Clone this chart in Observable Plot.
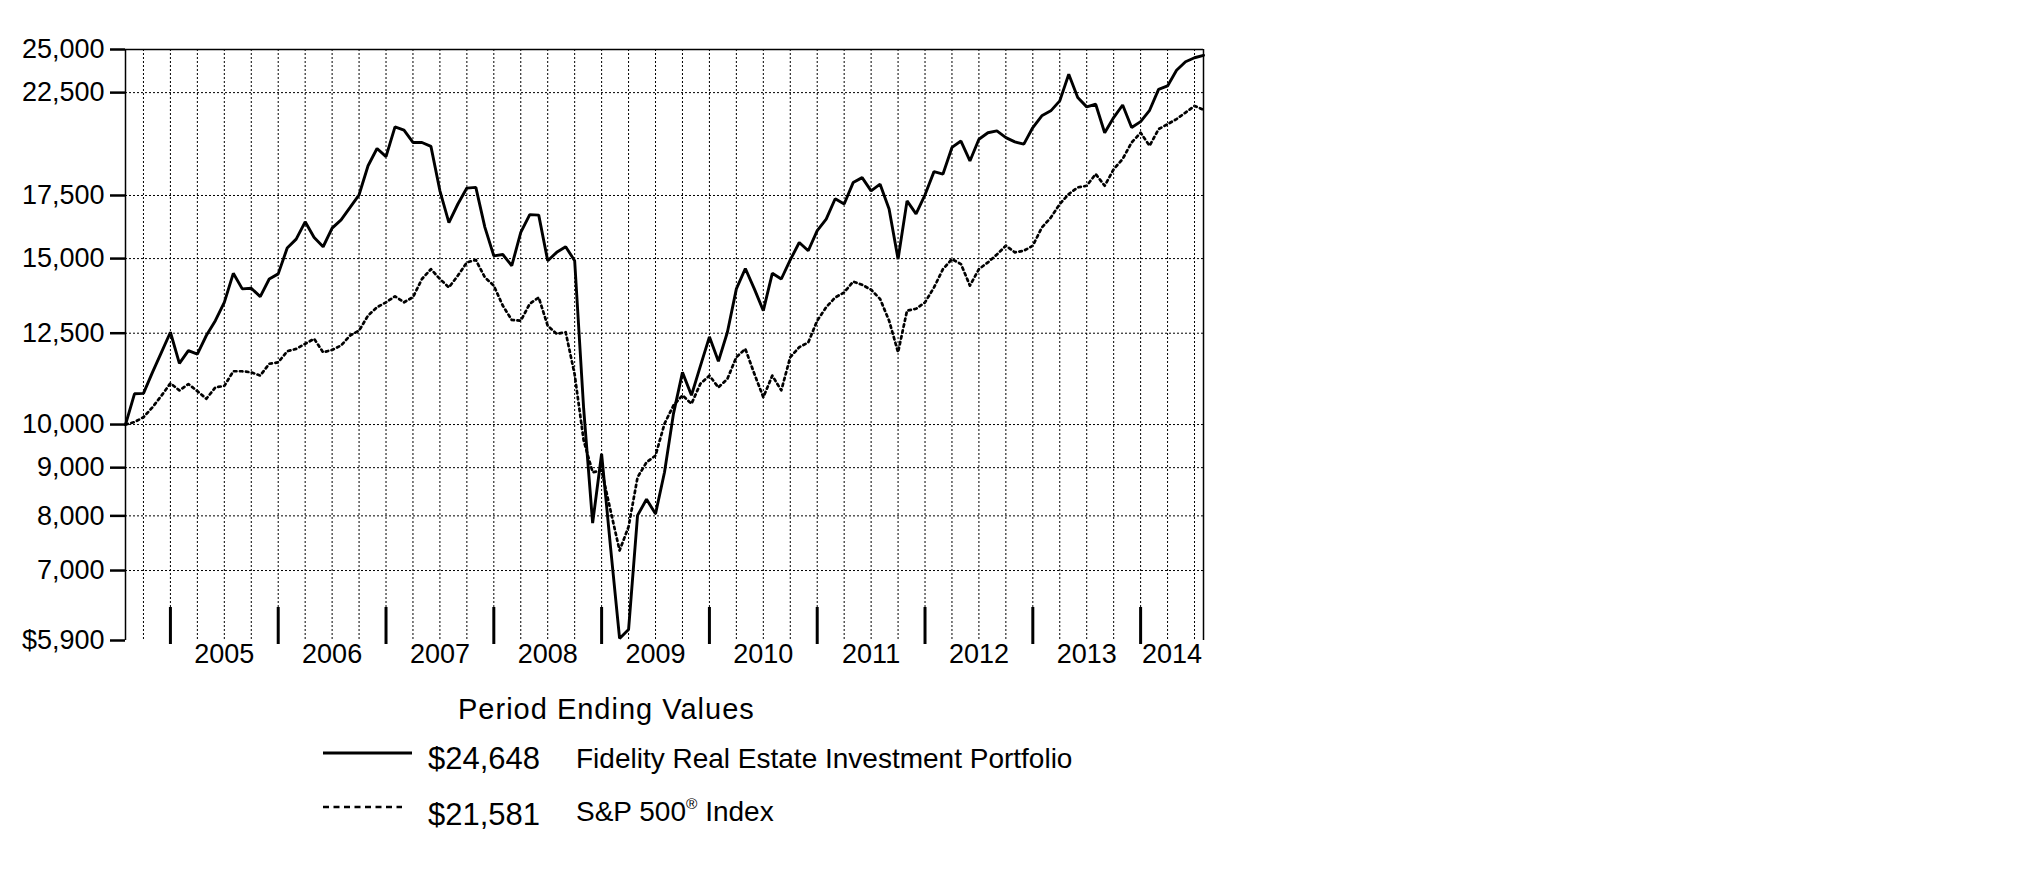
<!DOCTYPE html>
<html><head><meta charset="utf-8">
<script src="https://cdn.jsdelivr.net/npm/d3@7"></script>
<script src="https://cdn.jsdelivr.net/npm/@observablehq/plot@0.6"></script>
<style>
html,body{margin:0;padding:0;background:#fff;}
body{width:2025px;height:896px;position:relative;overflow:hidden;font-family:"Liberation Sans",Arial,Helvetica,sans-serif;color:#000;}
#chart{position:absolute;left:0;top:0;}
.lg{position:absolute;white-space:nowrap;line-height:1;color:#000;}
.lg sup{font-size:55%;vertical-align:0;position:relative;top:-0.75em;}
</style></head><body>
<div id="chart"></div>
<div id="legend"></div>
<script>
// Monthly period-ending values, Jul 2004 .. Jul 2014
const fidelity = [10000,10780,10790,11360,11930,12530,11610,11980,11880,12430,
12890,13480,14470,13930,13950,13670,14270,14450,15390,15730,
16410,15790,15440,16160,16490,17000,17530,18820,19630,19240,
20690,20530,19920,19920,19730,17700,16380,17140,17820,17850,
16200,15100,15150,14740,15990,16700,16680,14920,15230,15440,
14920,10400,7860,9310,7400,5930,6060,8010,8330,8040,
8900,10270,11360,10740,11540,12390,11670,12530,13930,14640,
13930,13210,14470,14270,14950,15600,15290,16060,16520,17360,
17140,18060,18280,17700,17990,16930,14980,17270,16730,17530,
18550,18440,19680,19990,19040,20080,20400,20490,20160,19950,
19840,20660,21260,21520,22050,23530,22230,21730,21870,20400,
21170,21830,20660,20960,21550,22680,22870,23760,24260,24500,
24648];
const sp500 = [10000,10060,10180,10430,10730,11060,10870,11040,10850,10650,
10950,10990,11390,11390,11360,11270,11600,11640,11960,12030,
12180,12330,11930,12000,12130,12430,12580,13050,13320,13480,
13680,13480,13650,14270,14620,14270,13980,14390,14860,14950,
14330,14040,13370,12910,12890,13430,13640,12730,12480,12530,
11300,9620,8900,8940,8100,7350,7790,8790,9120,9270,
10020,10480,10740,10520,11050,11270,10950,11180,11790,12030,
11320,10690,11270,10870,11790,12080,12220,12890,13320,13640,
13810,14180,14070,13900,13590,12890,11930,13210,13270,13480,
13980,14620,14980,14800,14040,14620,14860,15150,15480,15230,
15290,15480,16180,16580,17140,17560,17850,17920,18440,17920,
18660,19130,19920,20400,19760,20580,20830,21090,21430,21780,
21581];
const yearLabels = ["2005","2006","2007","2008","2009","2010","2011","2012","2013","2014"];
const yTicks = [5900,7000,8000,9000,10000,12500,15000,17500,22500,25000];
const seriesNames = ["Fidelity Real Estate Investment Portfolio","S&P 500® Index"];
const endingValues = ["$24,648","$21,581"];
const legendTitle = "Period Ending Values";

const lastIdx = fidelity.length - 1;
const rows = fidelity.map((v, i) => ({i, fund: v, index: sp500[i]}));
const quarterIdx = d3.range(2, lastIdx + 1, 3);       // quarter-end gridlines
const yearStartIdx = d3.range(5, lastIdx, 12);        // year boundaries
const yearCenters = yearLabels.map((label, k) => {
  const s = 5 + 12 * k, e = Math.min(s + 12, lastIdx);
  return {label, x: (s + e) / 2};
});
const fmt = d3.format(",");

const font = '"Liberation Sans", Arial, Helvetica, sans-serif';
const chart = Plot.plot({
  width: 1260, height: 690,
  marginLeft: 125, marginRight: 57, marginTop: 49, marginBottom: 50,
  style: {fontFamily: font, fontSize: "27px", color: "#000", background: "#fff", overflow: "visible"},
  x: {type: "linear", domain: [0, lastIdx], axis: null},
  y: {type: "log", domain: [yTicks[0], yTicks[yTicks.length - 1]]},
  marks: [
    Plot.gridY(yTicks.slice(1, -1), {stroke: "#000", strokeOpacity: 1, strokeWidth: 1, strokeDasharray: "2,2"}),
    Plot.ruleX(quarterIdx, {stroke: "#000", strokeWidth: 1, strokeDasharray: "2,2"}),
    Plot.ruleX(yearStartIdx, {stroke: "#000", strokeWidth: 3, insetTop: 558, insetBottom: -4}),
    Plot.ruleX([0, lastIdx], {stroke: "#000", strokeWidth: 1.5}),
    Plot.ruleY([yTicks[yTicks.length - 1]], {stroke: "#000", strokeWidth: 1.5}),
    Plot.axisY({ticks: yTicks, anchor: "left", tickSize: 15, tickPadding: 6, strokeWidth: 2.5,
      fontSize: 27, tickFormat: d => (d === yTicks[0] ? "$" : "") + fmt(d), label: null}),
    Plot.text(yearCenters, {x: "x", text: "label", frameAnchor: "bottom", dy: 22, fontSize: 27, fill: "#000"}),
    Plot.line(rows, {x: "i", y: "index", stroke: "#000", strokeWidth: 2.7, strokeDasharray: "2.5,3.5"}),
    Plot.line(rows, {x: "i", y: "fund", stroke: "#000", strokeWidth: 2.9, strokeLinejoin: "miter"})
  ]
});
document.getElementById("chart").appendChild(chart);

// Legend (below the chart)
const lg = document.getElementById("legend");
function addText(html, left, top, size, extra) {
  const d = document.createElement("div");
  d.className = "lg";
  d.style.left = left + "px"; d.style.top = top + "px"; d.style.fontSize = size + "px";
  if (extra) Object.assign(d.style, extra);
  d.innerHTML = html;
  lg.appendChild(d);
}
function addSample(top, dash, w) {
  const ns = "http://www.w3.org/2000/svg";
  const s = document.createElementNS(ns, "svg");
  s.setAttribute("width", 100); s.setAttribute("height", 10);
  s.style.position = "absolute"; s.style.left = "320px"; s.style.top = (top - 5) + "px";
  const l = document.createElementNS(ns, "line");
  l.setAttribute("x1", 3); l.setAttribute("x2", dash ? 82 : 92);
  l.setAttribute("y1", 5); l.setAttribute("y2", 5);
  l.setAttribute("stroke", "#000"); l.setAttribute("stroke-width", w);
  if (dash) l.setAttribute("stroke-dasharray", dash);
  s.appendChild(l);
  lg.appendChild(s);
}
const esc = t => t.replace(/&/g, "&amp;").replace("®", "<sup>®</sup>");
addText(legendTitle, 458, 695, 29, {letterSpacing: "1px"});
addSample(753, null, 3);
addText(endingValues[0], 428, 743, 31);
addText(esc(seriesNames[0]), 576, 744.5, 28);
addSample(807, "6,4.5", 2.5);
addText(endingValues[1], 428, 798.5, 31);
addText(esc(seriesNames[1]), 576, 797.5, 28);
</script>
</body></html>
